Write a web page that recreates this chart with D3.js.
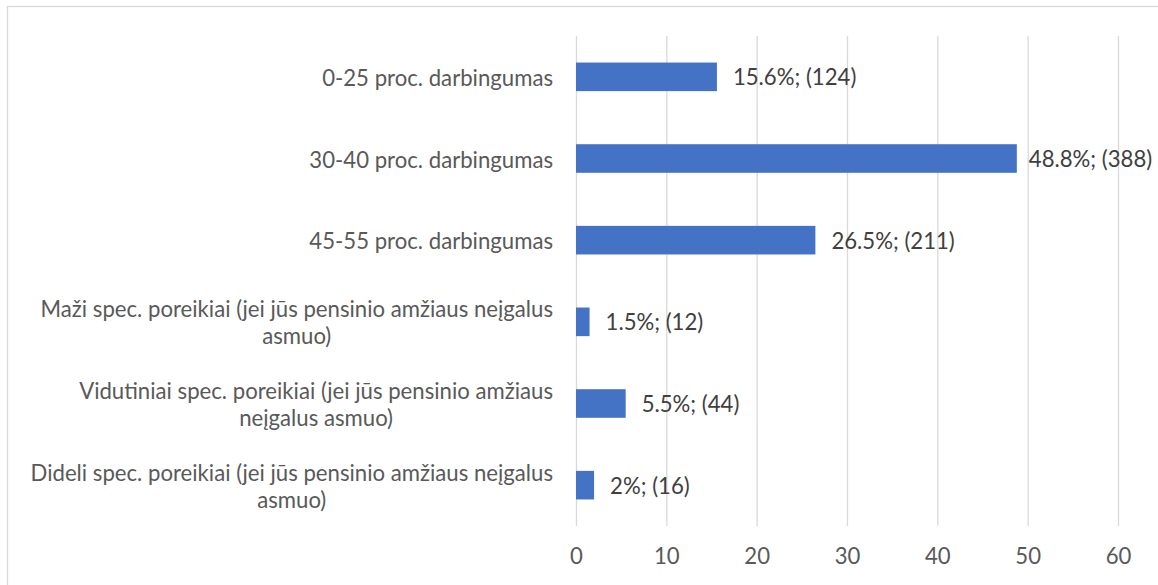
<!DOCTYPE html>
<html>
<head>
<meta charset="utf-8">
<script src="https://cdn.jsdelivr.net/npm/d3@7"></script>
<style>
  html, body { margin: 0; padding: 0; background: #ffffff; }
  svg { display: block; }
</style>
</head>
<body>
<svg id="chart" width="1158" height="585"></svg>
<script>
// ---- data ----
const categories = [
  "0-25 proc. darbingumas",
  "30-40 proc. darbingumas",
  "45-55 proc. darbingumas",
  "Maži spec. poreikiai (jei jūs pensinio amžiaus neįgalus asmuo)",
  "Vidutiniai spec. poreikiai (jei jūs pensinio amžiaus neįgalus asmuo)",
  "Dideli spec. poreikiai (jei jūs pensinio amžiaus neįgalus asmuo)"
];
const percentValues = [15.6, 48.8, 26.5, 1.5, 5.5, 2];
const counts = [124, 388, 211, 12, 44, 16];
const xTicks = [0, 10, 20, 30, 40, 50, 60];

// ---- layout ----
const W = 1158, H = 585;
const plot = { left: 576, right: 1118, top: 36, bottom: 526 };
const FONT = "Lato, 'Open Sans', sans-serif";

const svg = d3.select("#chart");

// fit font size so a reference label width matches the original
const probe = svg.append("text").attr("font-family", FONT).attr("font-size", 100)
  .text(categories[0]);
const probeW = probe.node().getComputedTextLength();
probe.remove();
const fs = 100 * 231 / probeW;

// outer border
svg.append("rect")
  .attr("x", 7.5).attr("y", 6.5)
  .attr("width", W).attr("height", H)
  .attr("fill", "none").attr("stroke", "#d9d9d9").attr("stroke-width", 1.3);

const x = d3.scaleLinear().domain([0, 60]).range([plot.left, plot.right]);
const y = d3.scaleBand().domain(categories).range([plot.top, plot.bottom])
  .paddingInner(0.65).paddingOuter(0.325);

// gridlines
svg.append("g").selectAll("line").data(xTicks).join("line")
  .attr("x1", d => x(d) + 0.5).attr("x2", d => x(d) + 0.5)
  .attr("y1", plot.top).attr("y2", plot.bottom)
  .attr("stroke", "#d9d9d9").attr("stroke-width", 1.3);

// x axis tick labels
const xAxis = d3.axisBottom(x).tickValues(xTicks).tickSize(0).tickPadding(0);
const gx = svg.append("g").attr("transform", `translate(0,${plot.bottom})`).call(xAxis);
gx.select(".domain").remove();
gx.selectAll("text")
  .attr("font-family", FONT).attr("font-size", fs).attr("fill", "#595959")
  .attr("dy", null).attr("y", 29).attr("dominant-baseline", "central");

// bars
const rows = categories.map((c, i) => ({ c, v: percentValues[i], n: counts[i] }));
svg.append("g").selectAll("rect").data(rows).join("rect")
  .attr("x", x(0)).attr("y", d => y(d.c))
  .attr("width", d => x(d.v) - x(0))
  .attr("height", y.bandwidth())
  .attr("fill", "#4472c4");

// data labels
svg.append("g").selectAll("text").data(rows).join("text")
  .attr("x", d => x(d.v) + (d.v > 40 ? 12 : 16))
  .attr("y", d => y(d.c) + y.bandwidth() / 2)
  .attr("dominant-baseline", "central")
  .attr("font-family", FONT).attr("font-size", fs).attr("fill", "#404040")
  .text(d => `${d.v}%; (${d.n})`);

// category labels (wrapped, centered block, right aligned)
const wrapWidth = 540 * fs / 21.5;
const lineH = 27;
const labelRight = 553;
const catG = svg.append("g");
function measure(t) {
  const n = catG.append("text").attr("font-family", FONT).attr("font-size", fs).text(t);
  const w = n.node().getComputedTextLength();
  n.remove();
  return w;
}
categories.forEach(c => {
  const words = c.split(" ");
  const lines = [];
  let cur = "";
  words.forEach(w => {
    const test = cur ? cur + " " + w : w;
    if (measure(test) > wrapWidth && cur) { lines.push(cur); cur = w; }
    else cur = test;
  });
  if (cur) lines.push(cur);
  const maxW = d3.max(lines, measure);
  const cx = labelRight - maxW / 2;
  const cy = y(c) + y.bandwidth() / 2;
  const t = catG.append("text")
    .attr("font-family", FONT).attr("font-size", fs).attr("fill", "#595959")
    .attr("text-anchor", "middle").attr("dominant-baseline", "central");
  lines.forEach((l, i) => {
    t.append("tspan").attr("x", cx)
      .attr("y", cy + (i - (lines.length - 1) / 2) * lineH)
      .text(l);
  });
});
</script>
</body>
</html>
